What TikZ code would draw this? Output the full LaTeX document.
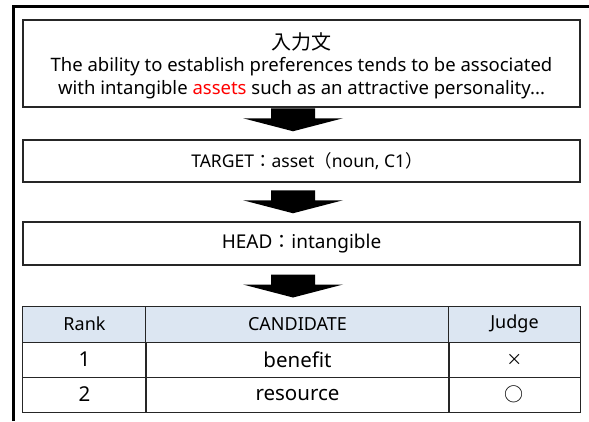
\documentclass[tikz,border=0pt]{standalone}
\usepackage{fontspec}
\setmainfont{Noto Sans}
\newfontfamily\jpfont{Noto Sans CJK JP}
\usepackage{tikz}
\usetikzlibrary{calc,matrix,positioning}
\definecolor{headblue}{HTML}{DCE6F2}
\definecolor{lineclr}{HTML}{262626}
\newcommand{\jp}[1]{{\jpfont #1}}
\tikzset
{
    stagebox/.style = {draw=lineclr, line width=1.5pt, minimum width=557pt, inner sep=0pt, align=center},
    cell/.style     = {draw=lineclr, line width=1pt, minimum height=35pt, inner sep=0pt, anchor=center},
    frameline/.style = {line width=2.5pt, black}
}
% block arrow from the bottom of one box down to the top of the next
\newcommand{\blockarrow}[2]{
  \fill[black] ($(#2.north)+(-8.5,-8)$) -- ($(#2.north)+(-58.5,-21)$) -- ($(#2.north)+(-30.5,-21)$)
    -- ($(#2.north)+(-30.5,-31)$) -- ($(#2.north)+(13.5,-31)$) -- ($(#2.north)+(13.5,-21)$)
    -- ($(#2.north)+(41.5,-21)$) -- cycle;
}

\begin{document}
\begin{tikzpicture}[x=1pt, y=-1pt, font=\fontsize{18.5}{23}\selectfont]
\useasboundingbox (0,0) rectangle (589,421);
% outer frame (left and top only)
\draw[frameline] (13.5,421) -- (13.5,6.5) -- (589,6.5);

\node[stagebox, minimum height=87pt] (input) at (301.5,63.5)
  {\rule{0pt}{22pt}{\jpfont\fontsize{20}{24}\selectfont 入力文}\\[-1pt]
   The ability to establish preferences tends to be associated\\
   with intangible \textcolor{red}{assets} such as an attractive personality...};
\node[stagebox, minimum height=42pt, font=\fontsize{17.5}{22}\selectfont] (target) at (301.5,161)
  {\hspace*{11pt}TARGET\jp{：}asset\jp{（}noun, C1\jp{）}};
\node[stagebox, minimum height=43pt, font=\fontsize{19}{22}\selectfont] (head) at (301.5,243.5)
  {HEAD\jp{：}intangible};

% candidate table
\matrix (cands) [matrix of nodes, anchor=north west, inner sep=0pt, outer sep=0pt,
  nodes={cell}, column sep=-1pt, row sep=-1pt,
  column 1/.style={nodes={minimum width=123pt}},
  column 2/.style={nodes={minimum width=303pt}},
  column 3/.style={nodes={minimum width=131pt}},
  row 1/.style={nodes={fill=headblue, minimum height=36pt, font=\fontsize{18}{22}\selectfont}},
  row 2/.style={nodes={font=\fontsize{20.5}{22}\selectfont}},
  row 3/.style={nodes={font=\fontsize{20.5}{22}\selectfont}}] at (22.5,305.5)
{
  Rank & CANDIDATE & Judge \\
  1 & benefit & {\jpfont\fontsize{16}{20}\selectfont ×} \\
  2 & resource & {\jpfont\fontsize{19}{20}\selectfont ○} \\
};

\blockarrow{input}{target}
\blockarrow{target}{head}
\blockarrow{head}{cands}
\end{tikzpicture}
\end{document}
